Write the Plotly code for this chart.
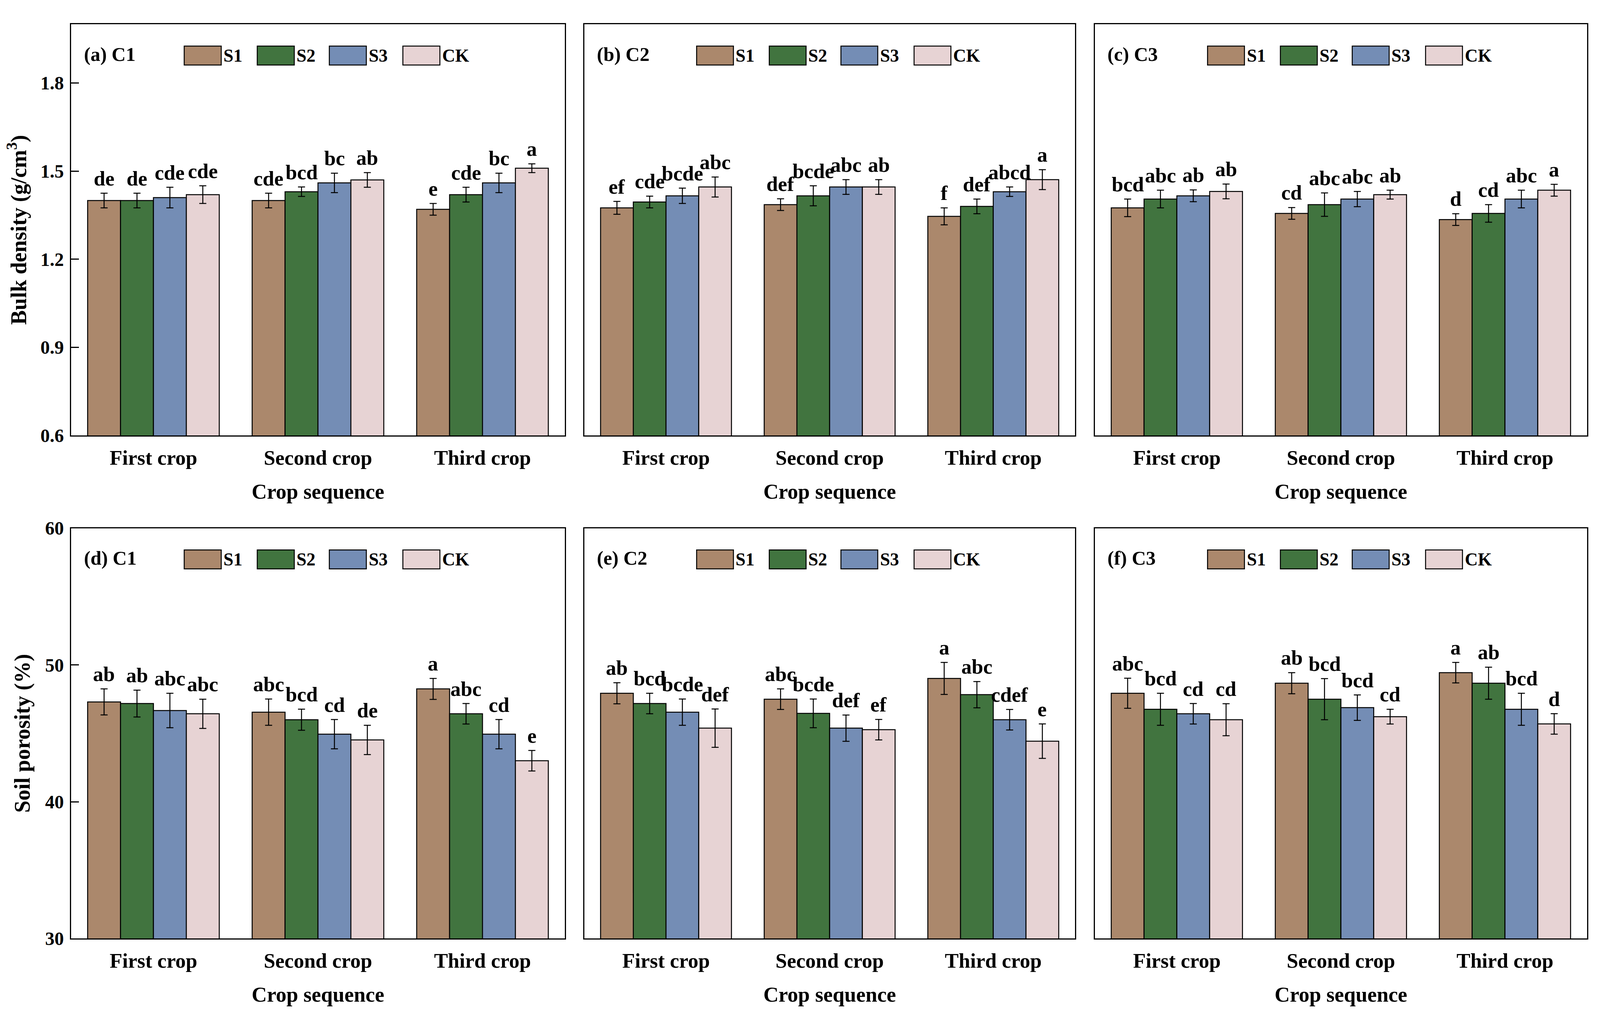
import plotly.graph_objects as go

# Categories and treatments
crops = ["First crop", "Second crop", "Third crop"]
treatments = ["S1", "S2", "S3", "CK"]
colors = ["#AB886C", "#41743F", "#748DB5", "#E7D3D4"]

# Bulk density (g/cm3), rows = S1, S2, S3, CK; columns = crops
bd_c1 = [[1.40, 1.40, 1.37], [1.40, 1.43, 1.42], [1.41, 1.46, 1.46], [1.42, 1.47, 1.51]]
bd_c1_err = [[0.025, 0.025, 0.02], [0.025, 0.016, 0.025], [0.035, 0.033, 0.033], [0.03, 0.025, 0.015]]
bd_c1_sig = [["de", "cde", "e"], ["de", "bcd", "cde"], ["cde", "bc", "bc"], ["cde", "ab", "a"]]

bd_c2 = [[1.375, 1.386, 1.346], [1.395, 1.416, 1.38], [1.416, 1.446, 1.43], [1.446, 1.446, 1.471]]
bd_c2_err = [[0.022, 0.02, 0.029], [0.02, 0.034, 0.025], [0.026, 0.025, 0.016], [0.034, 0.025, 0.034]]
bd_c2_sig = [["ef", "def", "f"], ["cde", "bcde", "def"], ["bcde", "abc", "abcd"], ["abc", "ab", "a"]]

bd_c3 = [[1.375, 1.356, 1.335], [1.405, 1.386, 1.356], [1.416, 1.405, 1.405], [1.431, 1.42, 1.435]]
bd_c3_err = [[0.03, 0.02, 0.02], [0.03, 0.04, 0.03], [0.02, 0.026, 0.03], [0.025, 0.015, 0.02]]
bd_c3_sig = [["bcd", "cd", "d"], ["abc", "abc", "cd"], ["ab", "abc", "abc"], ["ab", "ab", "a"]]

# Soil porosity (%)
sp_c1 = [[47.3, 46.55, 48.25], [47.18, 46.0, 46.43], [46.67, 44.94, 44.94], [46.43, 44.52, 43.0]]
sp_c1_err = [[0.95, 0.96, 0.77], [0.98, 0.77, 0.75], [1.26, 1.07, 1.07], [1.07, 1.07, 0.75]]
sp_c1_sig = [["ab", "abc", "a"], ["ab", "bcd", "abc"], ["abc", "cd", "cd"], ["abc", "de", "e"]]

sp_c2 = [[47.93, 47.5, 49.02], [47.18, 46.46, 47.83], [46.55, 45.38, 46.0], [45.38, 45.27, 44.43]]
sp_c2_err = [[0.77, 0.75, 1.17], [0.75, 1.05, 0.96], [0.96, 0.96, 0.75], [1.4, 0.75, 1.26]]
sp_c2_sig = [["ab", "abc", "a"], ["bcd", "bcde", "abc"], ["bcde", "def", "cdef"], ["def", "ef", "e"]]

sp_c3 = [[47.93, 48.67, 49.44], [46.76, 47.5, 48.67], [46.43, 46.88, 46.76], [46.0, 46.22, 45.69]]
sp_c3_err = [[1.1, 0.77, 0.75], [1.17, 1.5, 1.17], [0.75, 0.93, 1.17], [1.17, 0.54, 0.75]]
sp_c3_sig = [["abc", "ab", "a"], ["bcd", "bcd", "ab"], ["cd", "bcd", "bcd"], ["cd", "cd", "d"]]

panels = [
    ("(a) C1", bd_c1, bd_c1_err, bd_c1_sig),
    ("(b) C2", bd_c2, bd_c2_err, bd_c2_sig),
    ("(c) C3", bd_c3, bd_c3_err, bd_c3_sig),
    ("(d) C1", sp_c1, sp_c1_err, sp_c1_sig),
    ("(e) C2", sp_c2, sp_c2_err, sp_c2_sig),
    ("(f) C3", sp_c3, sp_c3_err, sp_c3_sig),
]

FONT = "Liberation Serif"
x_domains = [[0.0427, 0.3524], [0.3646, 0.6726], [0.6850, 0.9938]]
y_domains = [[0.5787, 0.989], [0.0767, 0.4861]]
offsets = [-0.3, -0.1, 0.1, 0.3]

fig = go.Figure()
annotations = []
shapes = []

for p, (label, means, errs, sigs) in enumerate(panels):
    n = p + 1
    xa = "x" if n == 1 else f"x{n}"
    ya = "y" if n == 1 else f"y{n}"
    row, col = p // 3, p % 3
    for s, name in enumerate(treatments):
        fig.add_trace(go.Bar(
            x=crops, y=means[s], name=name, xaxis=xa, yaxis=ya,
            marker=dict(color=colors[s], line=dict(color="black", width=2.5)),
            error_y=dict(type="data", array=errs[s], color="black", thickness=2.5, width=9),
            showlegend=False,
        ))
        # significance letters above the error bars
        for c in range(len(crops)):
            annotations.append(dict(
                x=c + offsets[s], y=means[s][c] + errs[s][c], xref=xa, yref=ya,
                text=sigs[s][c], showarrow=False, yanchor="bottom", yshift=7,
                font=dict(family=FONT, size=53, color="black", weight="bold"),
            ))

    # panel label
    annotations.append(dict(
        x=0.024, y=0.927, xref=f"{xa} domain", yref=f"{ya} domain", text=label,
        showarrow=False, xanchor="left", yanchor="middle",
        font=dict(family=FONT, size=50, color="black", weight="bold"),
    ))
    # legend swatches inside each panel
    box_x = [0.229, 0.377, 0.523, 0.672]
    for s, name in enumerate(treatments):
        shapes.append(dict(
            type="rect", xref=f"{xa} domain", yref=f"{ya} domain",
            x0=box_x[s], x1=box_x[s] + 0.075, y0=0.901, y1=0.947,
            fillcolor=colors[s], line=dict(color="black", width=2.5),
        ))
        annotations.append(dict(
            x=box_x[s] + 0.078, y=0.924, xref=f"{xa} domain", yref=f"{ya} domain",
            text=name, showarrow=False, xanchor="left", yanchor="middle",
            font=dict(family=FONT, size=46, color="black", weight="bold"),
        ))

    first_col = col == 0
    axis_common = dict(showline=True, linecolor="black", linewidth=3, mirror=True,
                       showgrid=False, zeroline=False)
    fig.layout[f"xaxis{'' if n == 1 else n}"] = dict(
        domain=x_domains[col], anchor=ya, type="category", ticks="",
        range=[-0.5, 2.5], ticklabelstandoff=8,
        tickfont=dict(family=FONT, size=53, color="black", weight="bold"),
        title=dict(text="Crop sequence", standoff=40,
                   font=dict(family=FONT, size=54, color="black", weight="bold")),
        **axis_common,
    )
    if row == 0:
        yrange, ytick = [0.6, 2.0], [0.6, 0.9, 1.2, 1.5, 1.8]
        ytitle = "Bulk density (g/cm<sup>3</sup>)"
    else:
        yrange, ytick = [30, 60], [30, 40, 50, 60]
        ytitle = "Soil porosity (%)"
    yaxis = dict(
        domain=y_domains[row], anchor=xa, range=yrange, tickvals=ytick,
        ticks="inside" if first_col else "", ticklen=20, tickwidth=3, tickcolor="black",
        showticklabels=first_col, ticklabelstandoff=6,
        tickfont=dict(family=FONT, size=48, color="black", weight="bold"),
        **axis_common,
    )
    if first_col:
        yaxis["title"] = dict(text=ytitle, standoff=22,
                              font=dict(family=FONT, size=56, color="black", weight="bold"))
    fig.layout[f"yaxis{'' if n == 1 else n}"] = yaxis

fig.update_layout(
    margin=dict(l=0, r=0, t=0, b=0),
    paper_bgcolor="white", plot_bgcolor="white",
    barmode="group", bargap=0.2, bargroupgap=0,
    annotations=annotations, shapes=shapes,
)

fig.write_html("out.html")
